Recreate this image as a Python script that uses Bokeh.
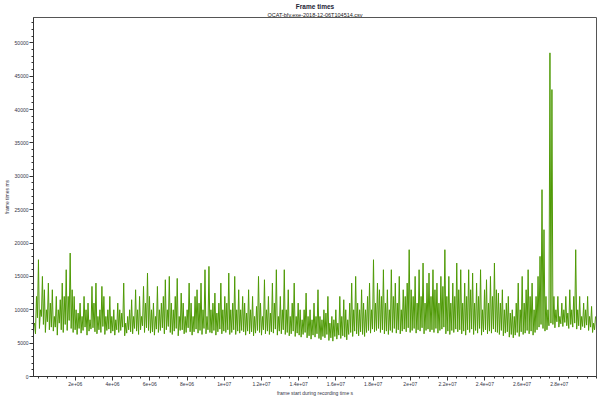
import numpy as np
from bokeh.plotting import figure
from bokeh.models import Range1d, FixedTicker, Title
from bokeh.embed import file_html
from bokeh.resources import INLINE

# frame start times: first sample and spacing (s)
frame_start_first = -250000.0
frame_start_step = 53260.0

# frame times (ms)
frame_times = [
    7600, 8000, 6400, 12000, 8800, 17500, 7200, 10000, 9000, 15000, 7800, 13000, 6600, 10000, 8200, 14000, 7000, 11000, 7400, 13000,
    6800, 9000, 7400, 12000, 6200, 10000, 8000, 11500, 7000, 14000, 6600, 12000, 7800, 16000, 6900, 12000, 8400, 18500, 7200, 13000,
    6600, 12000, 7000, 10000, 6300, 9500, 7200, 11000, 6500, 9000, 6900, 12000, 7400, 10000, 6200, 11000, 6800, 8500, 7100, 13500,
    7300, 11000, 6700, 14000, 6400, 9000, 7000, 10000, 6600, 13500, 7500, 12000, 6300, 9000, 6900, 10000, 7100, 12000, 6500, 9000,
    6800, 10000, 6200, 8500, 7000, 11000, 6600, 10000, 6900, 9500, 7400, 14000, 6100, 8000, 6500, 9000, 7000, 10000, 6700, 11500,
    6400, 9000, 7200, 13000, 6800, 10000, 6300, 12000, 7000, 9000, 7600, 13500, 6600, 11000, 7300, 15500, 6900, 12000, 6500, 10000,
    6700, 11000, 6200, 9000, 7100, 13500, 6600, 10000, 6900, 11000, 7300, 12000, 6400, 14500, 7000, 10000, 7500, 15000, 6600, 11000,
    6300, 10000, 6800, 12000, 7200, 14700, 6100, 9000, 6900, 12500, 7000, 11000, 6400, 9000, 6600, 10000, 7300, 14000, 6700, 11000,
    6200, 9000, 6700, 12000, 7100, 13000, 6500, 11000, 6900, 14000, 6300, 10000, 7200, 16000, 6400, 9000, 7000, 16500, 6600, 10000,
    6500, 11000, 6900, 12500, 6200, 9500, 6700, 11000, 7100, 14000, 6400, 10000, 6800, 12000, 6600, 11000, 7000, 15500, 6300, 10000,
    6600, 11000, 7000, 15000, 6300, 10000, 6800, 13000, 6500, 10000, 6900, 12000, 6700, 11000, 6200, 9500, 6800, 13000, 6400, 10000,
    6700, 12000, 6100, 9000, 6500, 10500, 6900, 15000, 6600, 11000, 6200, 9000, 7000, 14500, 6400, 10000, 6800, 12000, 6300, 9500,
    6700, 14000, 6500, 11000, 7100, 16000, 6200, 9000, 6800, 12000, 6400, 10000, 7000, 16000, 6300, 10000, 6600, 13000, 6100, 9000,
    6400, 11000, 6800, 14000, 6000, 9000, 6500, 11000, 6200, 10000, 5900, 8500, 6300, 10000, 6600, 12500, 5800, 9000, 6100, 10000,
    5600, 8500, 6200, 11000, 5900, 9000, 6400, 13000, 5700, 9000, 5500, 8500, 6000, 10000, 5800, 9500, 6300, 12000, 5400, 8000,
    5800, 9000, 5300, 8500, 6000, 10000, 5600, 8000, 6200, 12000, 5700, 9000, 6100, 11500, 5900, 10000, 5500, 8500, 6300, 11000,
    6600, 14000, 6000, 10000, 6800, 15000, 6400, 11000, 6100, 10000, 6700, 13000, 6300, 11000, 6000, 10000, 6600, 12000, 6900, 14000,
    6500, 10000, 7100, 17500, 6700, 11000, 6900, 14000, 7200, 13000, 6600, 12000, 7000, 16000, 6400, 11000, 6800, 13000, 6300, 10000,
    6900, 16000, 6600, 12000, 7200, 14000, 6500, 11000, 7000, 15000, 6400, 10000, 6800, 13000, 7100, 12000, 6700, 14000, 7300, 19000,
    6600, 13000, 6900, 12000, 7200, 15000, 6500, 11000, 7000, 16000, 6800, 12000, 7300, 17000, 6400, 11000, 6900, 14000, 7100, 15500,
    6700, 12000, 7000, 16000, 6600, 13000, 7200, 14000, 6500, 11000, 6900, 15000, 7100, 13500, 7400, 19000, 6400, 12000, 6800, 15000,
    6300, 11000, 6900, 14000, 6600, 12000, 7100, 17000, 6700, 13000, 7000, 16000, 6400, 11000, 6800, 14000, 6200, 12000, 7000, 16000,
    6600, 13000, 7100, 15500, 6300, 11000, 6900, 14000, 6500, 12000, 7200, 16000, 6200, 10000, 6700, 13000, 7000, 14500, 6400, 11000,
    6800, 15000, 6500, 12000, 7100, 17000, 6700, 13000, 6600, 12500, 6300, 11000, 6900, 13000, 6100, 10000, 6500, 11000, 6700, 12000,
    5900, 9500, 6300, 10000, 5800, 9000, 6200, 11000, 6600, 14000, 6000, 10000, 6700, 15000, 6300, 11000, 6500, 13000, 6900, 16000,
    6400, 12000, 6800, 14000, 6200, 10000, 6600, 12000, 7000, 15000, 7400, 18000, 7800, 28000, 7200, 22000, 6800, 12000, 7000, 10000,
    7600, 48500, 8000, 43000, 7800, 12000, 7300, 10000, 8200, 12000, 7400, 9000, 7900, 11000, 7500, 10000, 8100, 12000, 7600, 9500,
    7200, 13000, 7800, 10000, 7400, 12000, 8000, 19000, 7100, 10000, 7600, 12000, 7000, 9000, 7500, 11000, 7300, 10000, 7700, 12000,
    6900, 9000, 7400, 10500, 6600, 8000, 7000, 9000,
]

x_ticks = [2e6, 4e6, 6e6, 8e6, 1e7, 1.2e7, 1.4e7, 1.6e7, 1.8e7, 2e7, 2.2e7, 2.4e7, 2.6e7, 2.8e7]
x_tick_labels = ["2e+06", "4e+06", "6e+06", "8e+06", "1e+07", "1.2e+07", "1.4e+07",
                 "1.6e+07", "1.8e+07", "2e+07", "2.2e+07", "2.4e+07", "2.6e+07", "2.8e+07"]
y_ticks = [0, 5000, 10000, 15000, 20000, 25000, 30000, 35000, 40000, 45000, 50000]
y_tick_labels = ["0", "5000", "10000", "15000", "20000", "25000", "30000", "35000", "40000", "45000", "50000"]

x = frame_start_first + frame_start_step * np.arange(len(frame_times))

FONT = "Liberation Sans"
TXT = "#333344"

p = figure(width=600, height=398, output_backend="svg", toolbar_location=None,
           x_range=Range1d(-2.5e5, 3.0e7), y_range=Range1d(0, 53800),
           title=None, min_border_left=28, min_border_right=4,
           min_border_top=14, min_border_bottom=21,
           background_fill_color="white", border_fill_color="white")

p.add_layout(Title(text="OCAT-bfv.exe-2018-12-06T104514.csv", align="center",
                   text_font_size="5.5px", text_font_style="normal", text_font=FONT,
                   text_color="#222222", standoff=0, text_line_height=0.9), "above")
p.add_layout(Title(text="Frame times", align="center", text_font_size="6.5px",
                   text_font_style="bold", text_font=FONT, text_color="#222233",
                   standoff=0, text_line_height=0.9), "above")

p.line(x, frame_times, line_color="#4f9a06", line_width=1)

p.xgrid.visible = False
p.ygrid.visible = False
p.outline_line_color = "#555555"
p.outline_line_width = 1

p.xaxis.ticker = FixedTicker(ticks=x_ticks,
                             minor_ticks=[i * 5e5 for i in range(0, 61)])
p.xaxis.major_label_overrides = {t: l for t, l in zip(x_ticks, x_tick_labels)}
p.yaxis.ticker = FixedTicker(ticks=y_ticks,
                             minor_ticks=[i * 1000 for i in range(0, 54)])
p.yaxis.major_label_overrides = {t: l for t, l in zip(y_ticks, y_tick_labels)}

p.xaxis.axis_label = "frame start during recording time s"
p.yaxis.axis_label = "frame times ms"

for ax in (p.xaxis, p.yaxis):
    ax.axis_line_color = "#333333"
    ax.major_tick_line_color = "#333333"
    ax.minor_tick_line_color = "#333333"
    ax.major_tick_out = 4
    ax.major_tick_in = 0
    ax.minor_tick_out = 2
    ax.minor_tick_in = 0
    ax.major_label_text_font = FONT
    ax.major_label_text_font_size = "5px"
    ax.major_label_text_color = TXT
    ax.major_label_standoff = 1
    ax.axis_label_text_font = FONT
    ax.axis_label_text_font_size = "5px"
    ax.axis_label_text_font_style = "normal"
    ax.axis_label_text_color = TXT
    ax.axis_label_standoff = 1

p.yaxis.axis_label_standoff = 2

open("out.html", "w").write(file_html(p, INLINE))
